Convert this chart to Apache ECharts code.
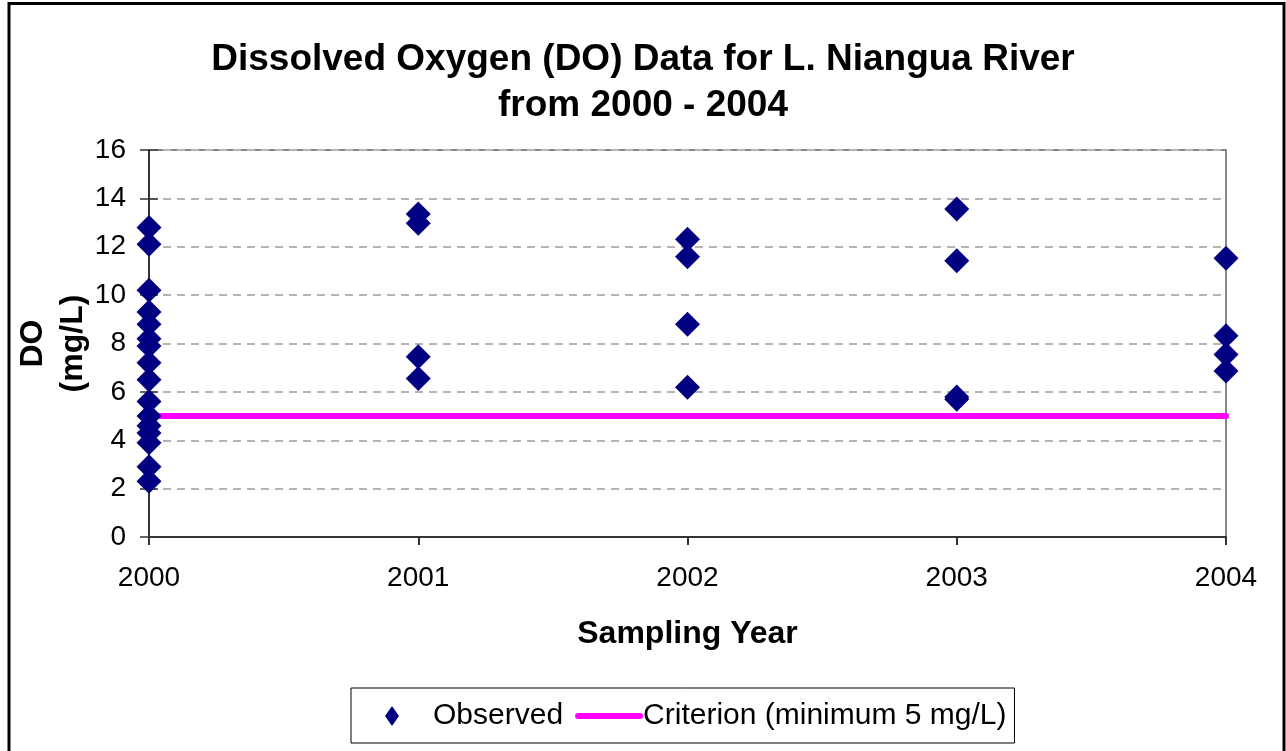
<!DOCTYPE html>
<html>
<head>
<meta charset="utf-8">
<script src="https://cdn.jsdelivr.net/npm/echarts@6/dist/echarts.min.js"></script>
<style>
  html, body { margin: 0; padding: 0; background: #fff; }
  #main { width: 1286px; height: 751px; }
</style>
</head>
<body>
<div id="main"></div>
<script>
// sampling years on the x axis
const years = [2000, 2001, 2002, 2003, 2004]

// observed DO (mg/L) per year
const do2000 = [12.8, 12.1, 10.2, 9.3, 8.8, 8.2, 7.9, 7.2, 6.5, 5.6, 5.0, 4.6, 4.3, 3.9, 2.9, 2.3]
const do2001 = [13.35, 12.97, 7.45, 6.55]
const do2002 = [12.31, 11.59, 8.8, 6.19]
const do2003 = [13.56, 11.42, 5.79, 5.69]
const do2004 = [11.52, 8.32, 7.55, 6.86]

const criterion = 5

const observed = []
;[do2000, do2001, do2002, do2003, do2004].forEach((vals, i) => {
  vals.forEach(v => observed.push([years[i], v]))
})

const chart = echarts.init(document.getElementById("main"))

const font = "'Liberation Sans', Arial, sans-serif"

// legend icons: a diamond centred in a 68x20 box, and a thick rounded bar
const diamondIcon = "path://M0,10 L0.01,10 L0,10.01 Z M68,10 L67.99,10 L68,10.01 Z M34,0 L41,10 L34,20 L27,10 Z"
const barIcon = "path://M3,0 L65,0 A3,3 0 0 1 65,6 L3,6 A3,3 0 0 1 3,0 Z"

const option = {
  backgroundColor: "#fff",
  textStyle: { fontFamily: font },
  animation: false,
  title: {
    text: "Dissolved Oxygen (DO) Data for L. Niangua River\nfrom 2000 - 2004",
    left: "center",
    top: 32,
    textStyle: {
      fontFamily: font,
      fontSize: 37,
      fontWeight: "bold",
      color: "#000",
      lineHeight: 46,
    },
  },
  grid: {
    left: 149,
    right: 60,
    top: 150,
    bottom: 214,
    outerBoundsMode: "none",
    containLabel: false,
    show: true,
    borderColor: "#888",
    borderWidth: 2,
  },
  legend: {
    data: [
      { name: "Observed", icon: diamondIcon, textStyle: { padding: [0, 0, 0, 2] } },
      { name: "Criterion (minimum 5 mg/L)", icon: barIcon },
    ],
    left: 351,
    top: 688,
    itemWidth: 68,
    itemHeight: 20,
    itemGap: 12,
    symbolKeepAspect: true,
    padding: [13, 8, 12, 7],
    borderColor: "#000",
    borderWidth: 1,
    textStyle: { fontFamily: font, fontSize: 30, color: "#000", padding: [0, 0, 0, -5] },
  },
  xAxis: {
    type: "value",
    min: 2000,
    max: 2004,
    interval: 1,
    name: "Sampling Year",
    nameLocation: "middle",
    nameGap: 81,
    nameMoveOverlap: false,
    nameTextStyle: { fontFamily: font, fontSize: 32, fontWeight: "bold", color: "#000" },
    axisLine: { lineStyle: { color: "#333", width: 2 } },
    axisTick: { show: true, length: 8, lineStyle: { color: "#333", width: 2 } },
    axisLabel: { margin: 27, fontFamily: font, fontSize: 28, color: "#000", formatter: v => String(v) },
    splitLine: { show: false },
  },
  yAxis: [
    {
      type: "value",
      min: 0,
      max: 16,
      interval: 2,
      name: "DO\n(mg/L)",
      nameLocation: "middle",
      nameGap: 56,
      nameRotate: 90,
      nameMoveOverlap: false,
      nameTextStyle: { fontFamily: font, fontSize: 32, fontWeight: "bold", color: "#000", lineHeight: 40 },
      axisLine: { show: true, lineStyle: { color: "#333", width: 2 } },
      axisTick: { show: true, length: 9, lineStyle: { color: "#333", width: 1.5 } },
      axisLabel: { margin: 23, fontFamily: font, fontSize: 28, color: "#000" },
      splitLine: { show: true, lineStyle: { color: "#b4b4b4", width: 2, type: [8, 6] } },
    },
    {
      // inner half of the cross ticks on the y axis
      type: "value",
      min: 0,
      max: 16,
      interval: 2,
      position: "left",
      axisLine: { show: false },
      axisTick: { show: true, inside: true, length: 9, lineStyle: { color: "#333", width: 1.5 } },
      axisLabel: { show: false },
      splitLine: { show: false },
    },
  ],
  series: [
    {
      name: "Criterion (minimum 5 mg/L)",
      type: "line",
      data: [[years[0], criterion], [years[years.length - 1], criterion]],
      symbol: "none",
      lineStyle: { color: "#ff00ff", width: 6, cap: "round" },
      itemStyle: { color: "#ff00ff" },
      z: 2,
    },
    {
      name: "Observed",
      type: "scatter",
      data: observed,
      symbol: "diamond",
      symbolSize: 25,
      itemStyle: { color: "#000080", opacity: 1 },
      z: 3,
    },
  ],
  graphic: [
    {
      type: "rect",
      shape: { x: 9, y: 3.5, width: 1275, height: 900 },
      style: { fill: "none", stroke: "#000", lineWidth: 3 },
      silent: true,
    },
  ],
}

option && chart.setOption(option)
</script>
</body>
</html>
